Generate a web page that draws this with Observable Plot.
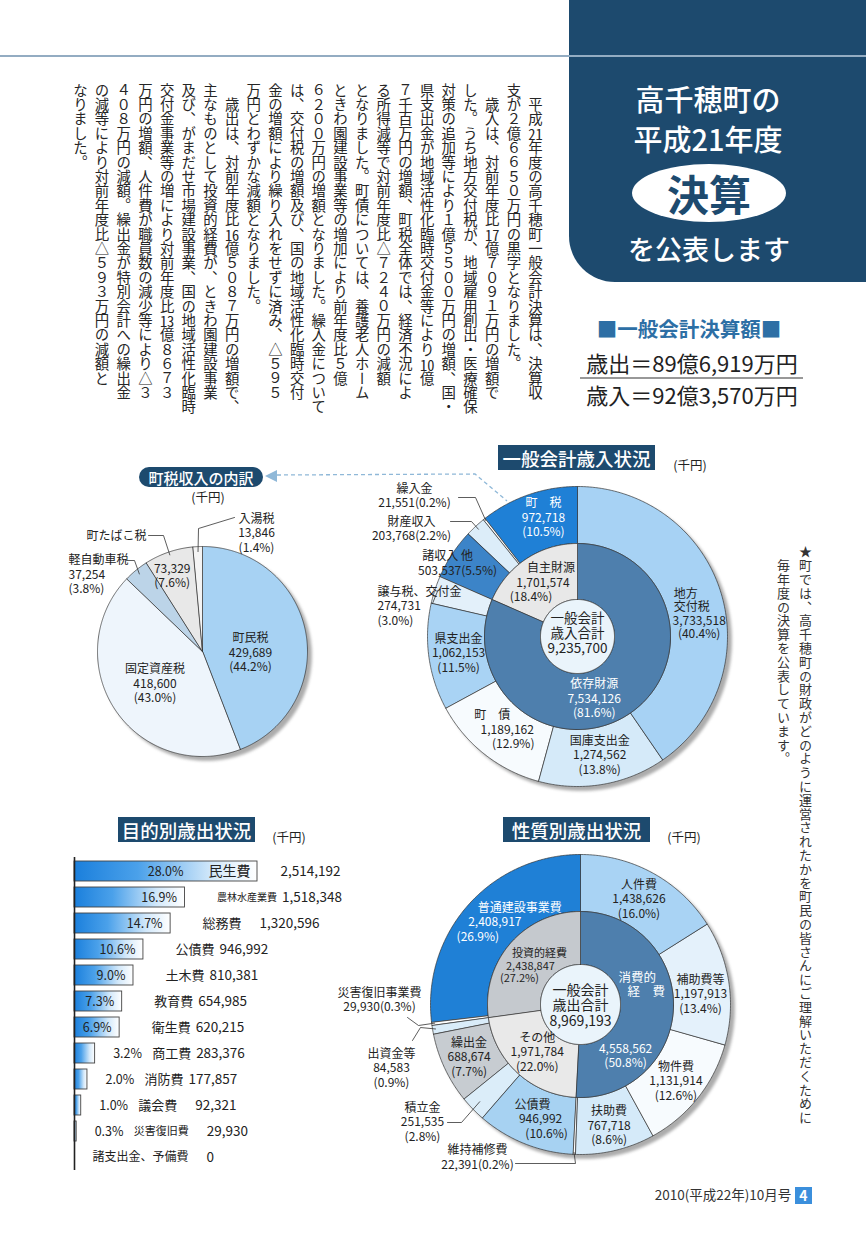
<!DOCTYPE html>
<html lang="ja"><head><meta charset="utf-8">
<script src="https://cdn.jsdelivr.net/npm/d3@7"></script>
<script src="https://cdn.jsdelivr.net/npm/@observablehq/plot@0.6"></script>
<style>
html,body{margin:0;padding:0;}
body{width:866px;height:1236px;position:relative;overflow:hidden;background:#fff;font-family:"Noto Sans CJK JP","Noto Sans",sans-serif;color:#222;}
.abs{position:absolute;}
.tcy{text-combine-upright:all;}
.vt{position:absolute;writing-mode:vertical-rl;white-space:nowrap;}
.chart svg{overflow:visible;display:block;}
.navy{background:#1d4a6e;color:#fff;display:flex;align-items:center;justify-content:center;white-space:nowrap;}
</style></head><body>

<div class="abs" style="left:569px;top:0;width:297px;height:282px;background:#1d4a6e;border-bottom-left-radius:46px"></div>
<div class="abs" style="left:0;top:55px;width:866px;height:1.5px;background:#93acc2"></div>

<div class="vt" style="right:320px;top:83px;height:345px;font-size:14.4px;line-height:21.67px;color:#262626">
　平成<span class="tcy">21</span>年度の高千穂町一般会計決算は、決算収<br>支が２億６６５０万円の黒字となりました。<br>　歳入は、対前年度比<span class="tcy">17</span>億７０９１万円の増額で<br>した。うち地方交付税が、地域雇用創出・医療確保<br>対策の追加等により１億５５００万円の増額、国・<br>県支出金が地域活性化臨時交付金等により<span class="tcy">10</span>億<br>７千百万円の増額、町税全体では、経済不況によ<br>る所得減等で対前年度比△７２４０万円の減額<br>となりました。町債については、養護老人ホーム<br>ときわ園建設事業等の増加により前年度比５億<br>６２００万円の増額となりました。繰入金について<br>は、交付税の増額及び、国の地域活性化臨時交付<br>金の増額により繰り入れをせずに済み、△５９５<br>万円とわずかな減額となりました。<br>　歳出は、対前年度比<span class="tcy">16</span>億５０８７万円の増額で、<br>主なものとして投資的経費が、ときわ園建設事業<br>及び、がまだせ市場建設事業、国の地域活性化臨時<br>交付金事業等の増により対前年度比<span class="tcy">13</span>億８６７３<br>万円の増額、人件費が職員数の減少等により△３<br>４０８万円の減額。繰出金が特別会計への繰出金<br>の減等により対前年度比△５９３万円の減額と<br>なりました。
</div>

<div class="vt" style="right:50px;top:545px;height:600px;font-size:13px;letter-spacing:0.8px;line-height:22px;color:#333">★町では、高千穂町の財政がどのように運営されたかを町民の皆さんにご理解いただくために<br>　毎年度の決算を公表しています。</div>

<svg class="abs" style="left:0;top:0" width="866" height="1236">
  <polyline points="277,475 475,474 507,501" fill="none" stroke="#8fb8d8" stroke-width="1.3" stroke-dasharray="4 3"/>
  <polygon points="265,476 277,470 277,482" fill="#8fb8d8"/>
  <ellipse cx="709" cy="193" rx="77" ry="29" fill="#fff"/>
  <line x1="580" y1="378" x2="803" y2="378" stroke="#333" stroke-width="1.2"/>
</svg>

<script>
// ---------------- data ----------------
const taxNames  = ["町民税","固定資産税","軽自動車税","町たばこ税","入湯税"];
const taxValues = [429689,418600,37254,73329,13846];
const taxShares = [44.2,43.0,3.8,7.6,1.4];

const revNames  = ["地方交付税","国庫支出金","町　債","県支出金","譲与税、交付金","諸収入 他","財産収入","繰入金","町　税"];
const revValues = [3733518,1274562,1189162,1062153,274731,503537,203768,21551,972718];
const revShares = [40.4,13.8,12.9,11.5,3.0,5.5,2.2,0.2,10.5];
const revGroupNames  = ["依存財源","自主財源"];
const revGroupValues = [7534126,1701574];
const revGroupShares = [81.6,18.4];
const revTotal = 9235700;

const purposeNames  = ["民生費","農林水産業費","総務費","公債費","土木費","教育費","衛生費","商工費","消防費","議会費","災害復旧費","諸支出金、予備費"];
const purposeValues = [2514192,1518348,1320596,946992,810381,654985,620215,283376,177857,92321,29930,0];
const purposeShares = [28.0,16.9,14.7,10.6,9.0,7.3,6.9,3.2,2.0,1.0,0.3,0];

const natureNames  = ["人件費","補助費等","物件費","扶助費","維持補修費","公債費","積立金","繰出金","出資金等","災害復旧事業費","普通建設事業費"];
const natureValues = [1438626,1197913,1131914,767718,22391,946992,251535,688674,84583,29930,2408917];
const natureShares = [16.0,13.4,12.6,8.6,0.2,10.6,2.8,7.7,0.9,0.3,26.9];
const natureGroupNames  = ["消費的経費","その他","投資的経費"];
const natureGroupValues = [4558562,1971784,2438847];
const natureGroupShares = [50.8,22.0,27.2];
const natureTotal = 8969193;

// ---------------- styles ----------------
const FONT = '"Noto Sans CJK JP","Noto Sans",sans-serif';
const taxColors = ["#a7d2f3","#eef5fc","#bcd4e8","#e8e8e8","#f4f4f4"];
const revColors = ["#a7d2f4","#d5eaf9","#f7fbfe","#a9d3f4","#e3f0fa","#3c84c8","#dcedf9","#ffffff","#1f80d6"];
const revGroupColors = ["#4e7fad","#e8e8e8"];
const natureColors = ["#a9d3f4","#e4f1fb","#f7fbfe","#d5eaf9","#ffffff","#a7d2f2","#dbedf9","#c7ccd1","#d9ecf9","#ffffff","#1f80d6"];
const natureGroupColors = ["#4e7fad","#e9e9e9","#c5c9ce"];
const centerColor = "#eaf4fb";

const fmt = d3.format(",");
const pctTxt = v => `${v.toFixed(1)}%`;
const pct = v => `(${pctTxt(v)})`;

// ---------------- helpers ----------------
function ringPolys(values, r0, r1, colors, id) {
  const arcs = d3.pie().sort(null).value(d => d)(values);
  const pts = [];
  arcs.forEach((a, i) => {
    const k = id + i, c = colors[i], span = a.endAngle - a.startAngle;
    const n = Math.max(2, Math.ceil(span / 0.01));
    for (let j = 0; j <= n; j++) { const t = a.startAngle + span * j / n; pts.push({k, c, x: r1 * Math.sin(t), y: -r1 * Math.cos(t)}); }
    if (r0 > 0) for (let j = n; j >= 0; j--) { const t = a.startAngle + span * j / n; pts.push({k, c, x: r0 * Math.sin(t), y: -r0 * Math.cos(t)}); }
    else if (span < 2 * Math.PI - 1e-9) pts.push({k, c, x: 0, y: 0});
  });
  return {arcs, pts};
}
const rad = a => a * Math.PI / 180;
const pol = (a, r) => [r * Math.sin(rad(a)), -r * Math.cos(rad(a))];
const mid = arc => (arc.startAngle + arc.endAngle) / 2 * 180 / Math.PI;
// a label block: one multi-line text, or staggered single lines when dxs is given
function block(lines, [cx, cy], o = {}) {
  const {fs = 12, lh = 14.5, c = "#222", anchor = "middle", dxs} = o;
  if (dxs) return lines.map((t, i) => ({t, x: cx + dxs[i], y: cy + (i - (lines.length - 1) / 2) * lh, fs, lh, c, anchor}));
  return [{t: lines.join("\n"), x: cx, y: cy, fs, lh, c, anchor}];
}
let lk = 0;
function leader(pts) { const k = "L" + (lk++); return pts.map(([x, y]) => ({k, x, y})); }

function piePlot(W, H, polys, texts, leaders) {
  const svg = Plot.plot({
    width: W, height: H, margin: 0,
    x: {domain: [-W / 2, W / 2], range: [0, W]},
    y: {domain: [-H / 2, H / 2], range: [0, H]},
    axis: null, color: {type: "identity"},
    style: {fontFamily: FONT, background: "transparent", overflow: "visible"},
    marks: [
      Plot.line(polys, {x: "x", y: "y", z: "k", fill: d => d.c, stroke: "#333", strokeWidth: 0.7, curve: "linear-closed"}),
      Plot.line(leaders, {x: "x", y: "y", z: "k", stroke: "#333", strokeWidth: 0.8}),
      ...texts.map(t => Plot.text([t], {x: "x", y: "y", text: "t", fill: t.c, fontSize: t.fs, lineHeight: t.lh / t.fs, textAnchor: t.anchor}))
    ]
  });
  const g = svg.querySelector('g[aria-label="line"]');
  if (g) g.style.filter = "drop-shadow(4px 4px 1.5px rgba(70,70,70,0.45))";
  return svg;
}
function mount(node, left, top, w) {
  const d = document.createElement("div");
  d.className = "abs chart"; d.style.left = left + "px"; d.style.top = top + "px"; d.style.width = w + "px";
  d.appendChild(node); document.body.appendChild(d); return node;
}
function txt(s, cx, cy, fs, style = {}) {
  const d = document.createElement("div");
  d.className = "abs"; d.textContent = s;
  Object.assign(d.style, {left: (cx - 250) + "px", width: "500px", textAlign: "center", top: (cy - fs / 2) + "px",
    fontSize: fs + "px", lineHeight: fs + "px", whiteSpace: "nowrap"}, style);
  document.body.appendChild(d); return d;
}
function navyBox(s, l, t, w, h, fs, radius = 0) {
  const d = document.createElement("div");
  d.className = "abs navy"; d.textContent = s;
  Object.assign(d.style, {left: l + "px", top: t + "px", width: w + "px", height: h + "px", fontSize: fs + "px", borderRadius: radius + "px", fontWeight: "500"});
  document.body.appendChild(d); return d;
}

// ---------------- header texts ----------------
txt("高千穂町の", 708, 98, 29, {color: "#fff", fontWeight: "500"});
txt("平成21年度", 708, 138, 29, {color: "#fff", fontWeight: "500"});
txt("決算", 709, 193, 42, {color: "#1d4a6e", fontWeight: "700"});
txt("を公表します", 709, 248, 27, {color: "#fff", fontWeight: "500"});
txt("■一般会計決算額■", 689, 328, 20.5, {color: "#2d6fa5", fontWeight: "700"});
txt("歳出＝89億6,919万円", 692, 362, 22, {color: "#222"});
txt("歳入＝92億3,570万円", 692, 394, 22, {color: "#222"});

// ---------------- titles ----------------
navyBox("町税収入の内訳", 139, 467, 124, 20, 15, 10);
txt("(千円)", 208, 497, 12.5);
navyBox("一般会計歳入状況", 498, 445, 157, 25, 18.5);
txt("(千円)", 690, 465, 12.5);
navyBox("目的別歳出状況", 118, 817, 137, 25, 18.5);
txt("(千円)", 289, 837, 12.5);
navyBox("性質別歳出状況", 503, 817, 147, 25, 18.5);
txt("(千円)", 684, 837, 12.5);

// ---------------- tax pie ----------------
{
  const ring = ringPolys(taxValues, 0, 105, taxColors, "t");
  const A = ring.arcs;
  const L = i => [taxNames[i], fmt(taxValues[i]), pct(taxShares[i])];
  const texts = [
    ...block(L(0), pol(mid(A[0]) + 11, 48)),
    ...block(L(1), pol(mid(A[1]), 57)),
    ...block(L(3).slice(1), pol(mid(A[3]) - 3, 82)),
    ...block([taxNames[3]], [-86, -116]),
    ...block(L(2), [-134, -77.5], {anchor: "start"}),
    ...block(L(4), [54, -119])
  ];
  const leaders = [
    ...leader([[-54, -116], [-39, -116], pol(mid(A[3]), 102)]),
    ...leader([[-76, -91], [-68, -91], pol(mid(A[2]), 100)]),
    ...leader([[32, -134], [-4, -123], pol(mid(A[4]), 100)])
  ];
  mount(piePlot(300, 300, ring.pts, texts, leaders), 52, 501, 300);
}

// ---------------- revenue donut ----------------
{
  const outer = ringPolys(revValues, 93, 150, revColors, "o");
  const inner = ringPolys(revGroupValues, 37, 93, revGroupColors, "g");
  const core = ringPolys([revTotal], 0, 37, [centerColor], "c");
  const A = outer.arcs, G = inner.arcs;
  const L = i => [revNames[i], fmt(revValues[i]), pct(revShares[i])];
  const GL = i => [revGroupNames[i], fmt(revGroupValues[i]), pct(revGroupShares[i])];
  const W = "#fff";
  const texts = [
    ...block(L(8), pol(mid(A[8]) + 3, 124), {c: W}),
    ...block([revNames[0].slice(0, 2), revNames[0].slice(2)], pol(mid(A[0]) - 3.5, 103), {anchor: "start", lh: 13.5}),
    ...block(L(0).slice(1), pol(mid(A[0]) + 12.8, 122), {lh: 13.5}),
    ...block(L(1), pol(mid(A[1]) - 1, 120)),
    ...block(L(2), pol(mid(A[2]), 118), {dxs: [-12, 3, 9]}),
    ...block(L(3), pol(mid(A[3]), 120)),
    ...block([revNames[5], fmt(revValues[5]) + pct(revShares[5])], pol(mid(A[5]) - 3, 145), {dxs: [-5, 5]}),
    ...block(GL(1), pol(mid(G[1]), 65), {dxs: [9, 1, -11]}),
    ...block(GL(0), pol(mid(G[0]) + 18, 64), {c: W}),
    ...block(["一般会計", "歳入合計", fmt(revTotal)], [0, -3], {fs: 13.5, lh: 15}),
    ...block(L(4), [-200, -31], {anchor: "start"}),
    ...block([revNames[6], fmt(revValues[6]) + pct(revShares[6])], [-166, -108]),
    ...block([revNames[7], fmt(revValues[7]) + pct(revShares[7])], [-163, -141])
  ];
  const leaders = [
    ...leader([[-119, -139], [-102, -139], pol(mid(A[7]), 148)]),
    ...leader([[-127, -115], [-106, -115], pol(mid(A[6]), 146)]),
    ...leader([[-145, -33], pol(mid(A[4]), 147)])
  ];
  mount(piePlot(440, 340, [...outer.pts, ...inner.pts, ...core.pts], texts, leaders), 357, 466, 440);
}

// ---------------- nature donut ----------------
{
  const outer = ringPolys(natureValues, 93, 150, natureColors, "o");
  const inner = ringPolys(natureGroupValues, 40, 93, natureGroupColors, "g");
  const core = ringPolys([natureTotal], 0, 40, [centerColor], "c");
  const A = outer.arcs, G = inner.arcs;
  const L = i => [natureNames[i], fmt(natureValues[i]), pct(natureShares[i])];
  const GL = i => [natureGroupNames[i], fmt(natureGroupValues[i]), pct(natureGroupShares[i])];
  const W = "#fff";
  const n0 = natureGroupNames[0];
  const texts = [
    ...block(L(0), pol(mid(A[0]), 121)),
    ...block(L(1), pol(mid(A[1]) + 3, 120.5)),
    ...block(L(2), pol(mid(A[2]), 122)),
    ...block(L(3), pol(mid(A[3]), 124)),
    ...block(L(5), pol(mid(A[5]) - 2.7, 121), {dxs: [-8, 0, 6]}),
    ...block(L(7), pol(mid(A[7]), 123)),
    ...block(L(10), pol(mid(A[10]) + 3.4, 117), {c: W, dxs: [22, -3, -20]}),
    ...block(GL(2), pol(mid(G[2]) - 4, 64), {fs: 11, lh: 12.5, dxs: [10, 1, -10]}),
    ...block([n0.slice(0, 3), n0[3] + "　" + n0[4]], pol(mid(G[0]) - 19.6, 64), {c: W, fs: 12.5, dxs: [-4, 5]}),
    ...block(GL(0).slice(1), pol(mid(G[0]) + 47, 68), {c: W}),
    ...block(GL(1), pol(mid(G[1]), 64)),
    ...block(["一般会計", "歳出合計", fmt(natureTotal)], [0, 1], {fs: 14, lh: 15.5}),
    ...block([natureNames[4], fmt(natureValues[4]) + pct(natureShares[4])], [-103, 152.5]),
    ...block(L(6), [-158, 117]),
    ...block(L(8), [-189, 63]),
    ...block([natureNames[9], fmt(natureValues[9]) + pct(natureShares[9])], [-201, -5])
  ];
  const leaders = [
    ...leader([[-65, 159], [-5, 159], pol(mid(A[4]), 148)]),
    ...leader([[-133, 118], [-119, 118], pol(mid(A[6]), 140)]),
    ...leader([[-168, 36], [-160, 23], pol(mid(A[8]), 147)]),
    ...leader([[-173, 13], [-162, 21], pol(mid(A[9]), 147)])
  ];
  mount(piePlot(480, 350, [...outer.pts, ...inner.pts, ...core.pts], texts, leaders), 340, 829, 480);
}

// ---------------- purpose bar chart ----------------
{
  const data = purposeNames.map((name, i) => ({name, value: purposeValues[i], share: purposeShares[i], i}));
  const mode = d => d.share >= 20 ? "in" : d.share >= 5 ? "mid" : d.share > 0 ? "small" : "none";
  const wideGap = new Set([2, 9, 10, 11]);
  const nfs = d => ({3: 13, 5: 11, 6: 10}[d.name.length] ?? 12);
  const by = m => data.filter(d => mode(d) === m);
  const defs = () => {
    const ns = "http://www.w3.org/2000/svg";
    const g = document.createElementNS(ns, "defs");
    const lg = document.createElementNS(ns, "linearGradient");
    lg.setAttribute("id", "barGrad"); lg.setAttribute("x1", "0"); lg.setAttribute("x2", "1"); lg.setAttribute("y1", "0"); lg.setAttribute("y2", "0");
    [[0, "#1a7fdc"], [0.35, "#4ba1ea"], [0.75, "#d2e8fa"], [1, "#ffffff"]].forEach(([o, c]) => {
      const s = document.createElementNS(ns, "stop"); s.setAttribute("offset", o); s.setAttribute("stop-color", c); lg.appendChild(s);
    });
    g.appendChild(lg); return g;
  };
  const T = {x: "value", y: "name", fill: "#222"};
  const rowMarks = data.flatMap(d => {
    const m = mode(d), fsN = m === "in" ? 14 : nfs(d), gap = wideGap.has(d.i) ? 18 : 5;
    const nameDx = m === "in" ? -49 : m === "mid" ? 32 : m === "small" ? 57 : 18;
    const valDx = m === "in" ? 23 : nameDx + d.name.length * fsN + gap;
    return [
      Plot.text([d], {...T, text: "name", textAnchor: "start", dx: nameDx, fontSize: fsN}),
      Plot.text([d], {...T, text: v => fmt(v.value), textAnchor: "start", dx: valDx, fontSize: 13.5})
    ];
  });
  const svg = Plot.plot({
    width: 330, height: 330, marginLeft: 74, marginRight: 73, marginTop: 7, marginBottom: 10,
    x: {domain: [0, d3.max(purposeValues)], axis: null},
    y: {domain: purposeNames, axis: null, padding: 0},
    style: {fontFamily: FONT, background: "transparent", overflow: "visible"},
    marks: [
      defs,
      Plot.barX(data, {x: "value", y: "name", fill: "url(#barGrad)", stroke: "#444", strokeWidth: 0.9, insetTop: 3, insetBottom: 3}),
      Plot.ruleX([0], {stroke: "#222", strokeWidth: 1.6}),
      Plot.text(by("in"), {...T, text: d => pctTxt(d.share), textAnchor: "end", dx: -74, fontSize: 12.5}),
      Plot.text(by("mid"), {...T, text: d => pctTxt(d.share), textAnchor: "end", dx: -8, fontSize: 12.5}),
      Plot.text(by("small"), {...T, text: d => pctTxt(d.share), textAnchor: "start", dx: 18, fontSize: 12.5}),
      ...rowMarks
    ]
  });
  mount(svg, 0, 850, 330);
}

// ---------------- footer ----------------
txt("2010(平成22年)10月号", 723, 1195, 13.5, {color: "#333"});
const pg = document.createElement("div");
pg.className = "abs"; pg.textContent = "4";
Object.assign(pg.style, {left: "795px", top: "1187px", width: "17px", height: "17px", background: "#3b8fdc", color: "#fff",
  fontSize: "14px", fontWeight: "700", lineHeight: "17px", textAlign: "center"});
document.body.appendChild(pg);
</script>
</body></html>
